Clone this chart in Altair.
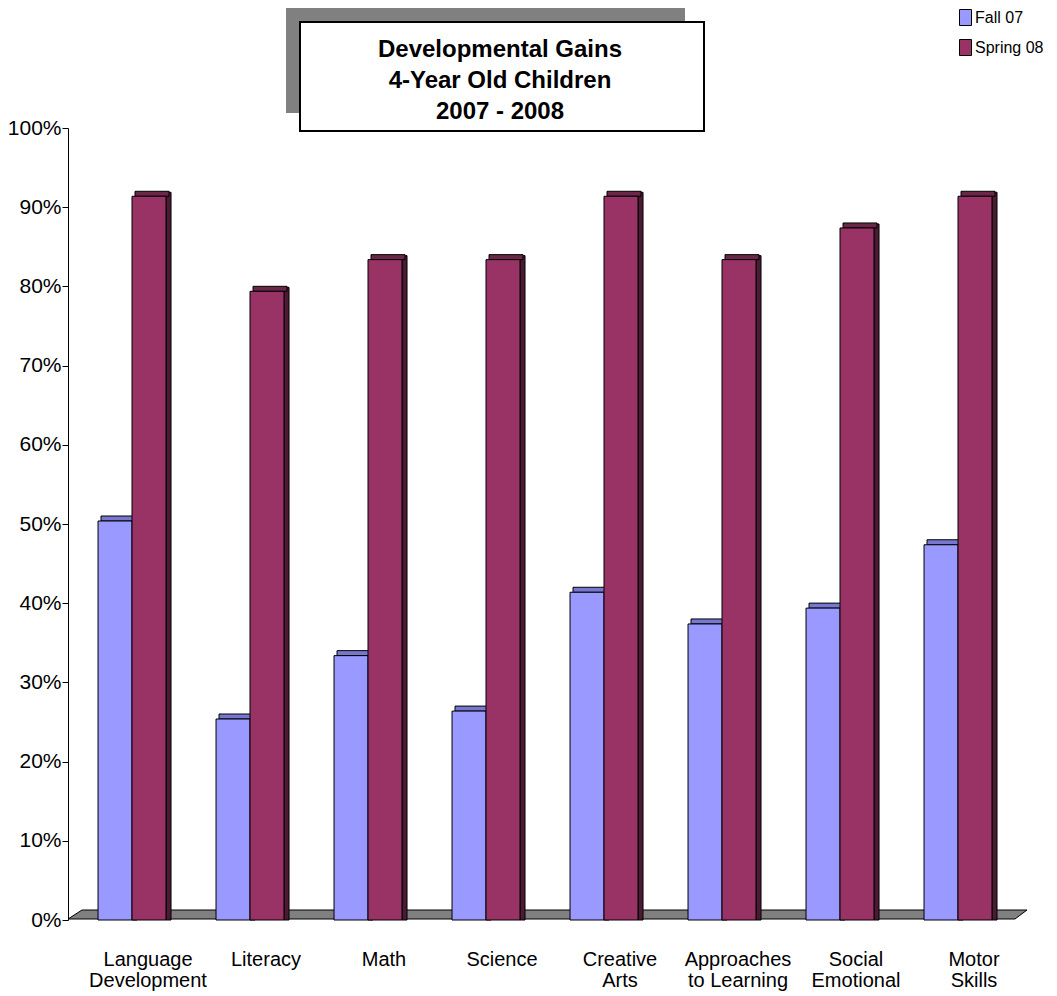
import altair as alt
import pandas as pd

categories = ["Language\nDevelopment", "Literacy", "Math", "Science", "Creative\nArts",
              "Approaches\nto Learning", "Social\nEmotional", "Motor\nSkills"]
series = ["Fall 07", "Spring 08"]
fall_07 = [0.50, 0.25, 0.33, 0.26, 0.41, 0.37, 0.39, 0.47]
spring_08 = [0.91, 0.79, 0.83, 0.83, 0.91, 0.83, 0.87, 0.91]
y_ticks = [0.0, 0.1, 0.2, 0.3, 0.4, 0.5, 0.6, 0.7, 0.8, 0.9, 1.0]
title_lines = ["Developmental Gains", "4-Year Old Children", "2007 - 2008"]

front_colors = ["#9999FF", "#993366"]
cap_colors = ["#7777D0", "#6B2648"]
side_colors = ["#5A5AAA", "#4D1A34"]

SANS = "Liberation Sans, Arial, sans-serif"

df = pd.DataFrame({
    "category": categories * 2,
    "series": [series[0]] * len(categories) + [series[1]] * len(categories),
    "value": fall_07 + spring_08,
})

x_scale = alt.Scale(paddingInner=0.424, paddingOuter=0.212)
y_scale = alt.Scale(domain=[0, 1], nice=False, zero=True)

x_axis = alt.Axis(title=None, labelAngle=0, domain=False, ticks=False, labelFont=SANS,
                  labelFontSize=20, labelColor="black", labelPadding=29, labelLineHeight=21,
                  labelOffset=16, labelExpr="split(datum.label, '\\n')", labelLimit=300)
y_axis = alt.Axis(title=None, values=y_ticks, format="%", tickSize=6, tickColor="black",
                  tickWidth=1, domainColor="black", domainWidth=1, labelFont=SANS,
                  labelFontSize=21, labelColor="black", labelPadding=1, grid=False, offset=5)

x_enc = alt.X("category:N", sort=categories, scale=x_scale, axis=x_axis)
y_enc = alt.Y("value:Q", scale=y_scale, stack=None, axis=y_axis)

base = alt.Chart(df)

# side faces: 5px wide bands at the right edge of each bar
sides = base.mark_bar(yOffset=-7, y2Offset=-7, stroke="black", strokeWidth=1).transform_calculate(
    fillc=f"datum.series == '{series[0]}' ? '{side_colors[0]}' : '{side_colors[1]}'"
).encode(
    x=x_enc,
    xOffset=alt.XOffset("series:N", sort=series,
                        scale=alt.Scale(range=[34, 73], paddingInner=0.853, paddingOuter=0)),
    y=y_enc,
    color=alt.Color("fillc:N", scale=None),
)

# top caps: shifted back/right
caps = base.mark_bar(yOffset=-8, y2Offset=-3, stroke="black", strokeWidth=1).transform_calculate(
    fillc=f"datum.series == '{series[0]}' ? '{cap_colors[0]}' : '{cap_colors[1]}'"
).encode(
    x=x_enc,
    xOffset=alt.XOffset("series:N", sort=series,
                        scale=alt.Scale(range=[3, 71], paddingInner=0, paddingOuter=0)),
    y=y_enc,
    y2="value:Q",
    color=alt.Color("fillc:N", scale=None),
)

fronts = base.mark_bar(yOffset=-3, y2Offset=-3, stroke="black", strokeWidth=1).encode(
    x=x_enc,
    xOffset=alt.XOffset("series:N", sort=series,
                        scale=alt.Scale(paddingInner=0, paddingOuter=0)),
    y=y_enc,
    color=alt.Color("series:N", sort=series,
                    scale=alt.Scale(domain=series, range=front_colors),
                    legend=alt.Legend(title=None, orient="none", legendX=884, legendY=-119,
                                      symbolType="M-0.75,-1L0.75,-1L0.75,1L-0.75,1Z",
                                      symbolSize=256, symbolStrokeColor="black",
                                      symbolStrokeWidth=1, labelFont=SANS, labelFontSize=16,
                                      labelColor="black", rowPadding=9, labelOffset=1,
                                      padding=0)),
)

bars = alt.layer(sides, caps, fronts).resolve_scale(xOffset="independent")

floor_df = pd.DataFrame({"fy": [782, 791], "fx1": [9, -5], "fx2": [954, 942]})
floor = alt.Chart(floor_df).mark_area(orient="horizontal", fill="#808080", stroke="black",
                                      strokeWidth=1).encode(
    y=alt.Y("fy:Q", scale=None, axis=None),
    x=alt.X("fx1:Q", scale=None, axis=None),
    x2="fx2:Q",
)

one = pd.DataFrame({"a": [0]})
shadow = alt.Chart(one).mark_rect(fill="#808080").encode(
    x=alt.value(213), x2=alt.value(612), y=alt.value(-121), y2=alt.value(-15))
box = alt.Chart(one).mark_rect(fill="white", stroke="black", strokeWidth=2).encode(
    x=alt.value(227), x2=alt.value(631), y=alt.value(-106), y2=alt.value(3))
title = alt.Chart(one).mark_text(text=title_lines, font=SANS, fontSize=24, fontWeight="bold",
                                 align="center", baseline="alphabetic", lineHeight=31,
                                 color="black").encode(
    x=alt.value(427), y=alt.value(-71))

chart = alt.layer(floor, bars, shadow, box, title).resolve_scale(
    x="independent", y="independent"
).properties(
    width=944, height=792,
    padding={"left": 65, "top": 120, "right": 32, "bottom": 72},
    autosize=alt.AutoSizeParams(type="none"),
    background="white",
).configure_view(stroke=None)

chart.save("out.html", embed_options={"renderer": "svg", "actions": False})
